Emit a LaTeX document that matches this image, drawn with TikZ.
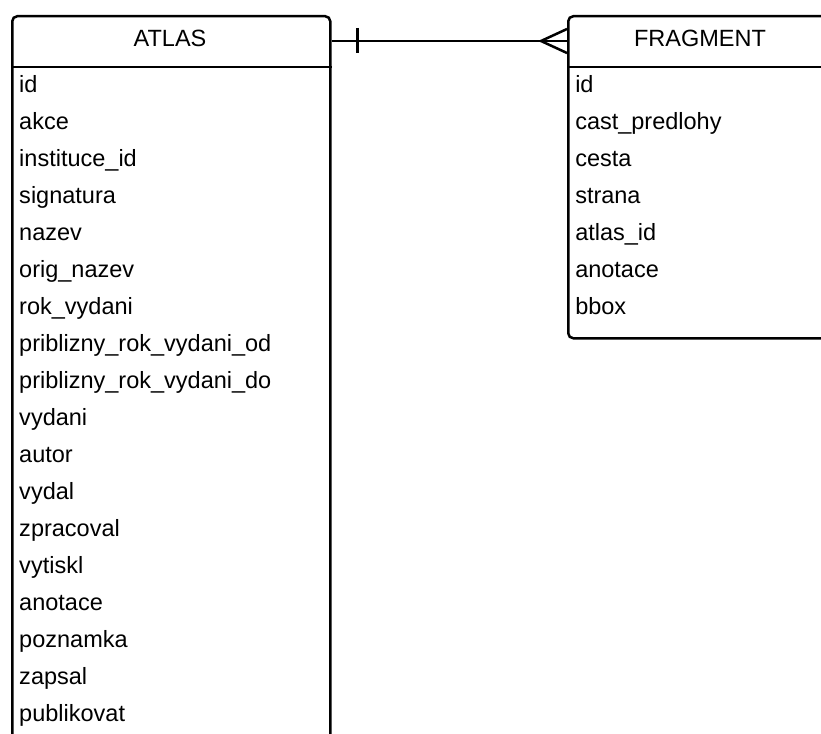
\documentclass[tikz,border=0pt]{standalone}
\usepackage{fontspec}
\setmainfont{Liberation Sans}
\begin{document}
\begin{tikzpicture}[x=1pt,y=-1pt,
  line width=2.5pt,
  entity/.style={draw, rounded corners=5pt, line width=2.5pt, inner sep=0pt, anchor=north west},
  title/.style={font=\fontsize{23.5}{28}\selectfont, anchor=base, inner sep=0pt},
  field/.style={font=\fontsize{23.5}{28}\selectfont, anchor=base west, inner sep=0pt},
]
\useasboundingbox (0,0) rectangle (821,733);
\clip (0,0) rectangle (821,733);

% entity boxes
\node[entity, minimum width=318pt, minimum height=729pt] (atlas) at (11,15) {};
\node[entity, minimum width=266pt, minimum height=322pt] (fragment) at (567,15) {};

% header separators
\coordinate (hdr) at (0,67);
\draw (atlas.west |- hdr) -- (atlas.east |- hdr);
\draw (fragment.west |- hdr) -- (fragment.east |- hdr);

% titles
\node[title] (atlastitle) at (170,47) {ATLAS};
\node[title] (fragmenttitle) at (700,47) {FRAGMENT};

% ATLAS fields
\foreach \f [count=\i from 0] in {id,akce,instituce\_id,signatura,nazev,orig\_nazev,rok\_vydani,priblizny\_rok\_vydani\_od,priblizny\_rok\_vydani\_do,vydani,autor,vydal,zpracoval,vytiskl,anotace,poznamka,zapsal,publikovat}
  \node[field] (a\i) at (18,92.5+37*\i) {\f};

% FRAGMENT fields
\foreach \f [count=\i from 0] in {id,cast\_predlohy,cesta,strana,atlas\_id,anotace,bbox}
  \node[field] (f\i) at (574,92.5+37*\i) {\f};

% relationship: one ATLAS to many FRAGMENT
\coordinate (rel) at (0,41);
\draw (atlas.east |- rel) -- (fragment.west |- rel);
\draw ([xshift=26pt]atlas.east |- rel) ++(0,-13) -- ++(0,25);
\coordinate (crow) at ([xshift=-26pt]fragment.west |- rel);
\draw ([yshift=12pt]fragment.west |- rel) -- (crow) -- ([yshift=-12pt]fragment.west |- rel);
\end{tikzpicture}
\end{document}
